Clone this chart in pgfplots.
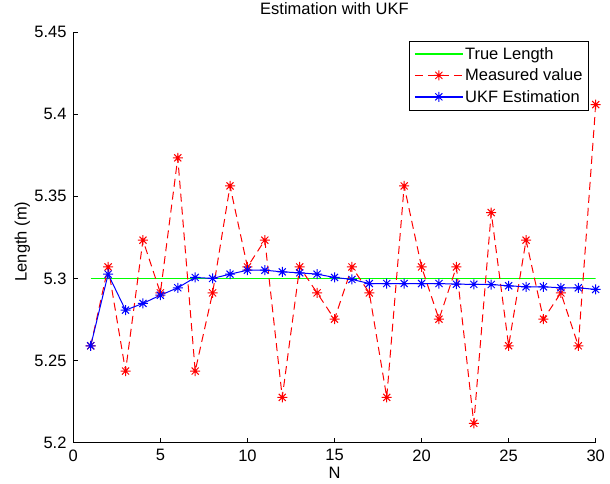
\documentclass[border=0pt]{standalone}
\usepackage{fontspec}
\setmainfont{Liberation Sans}
\usepackage{pgfplots}
\usepackage{pgfplotstable}
\pgfplotsset{compat=1.18}

% MATLAB-like '*' marker: plus and cross overlaid
\pgfdeclareplotmark{mstar}{%
  \pgfpathmoveto{\pgfqpoint{-\pgfplotmarksize}{0pt}}%
  \pgfpathlineto{\pgfqpoint{\pgfplotmarksize}{0pt}}%
  \pgfpathmoveto{\pgfqpoint{0pt}{-\pgfplotmarksize}}%
  \pgfpathlineto{\pgfqpoint{0pt}{\pgfplotmarksize}}%
  \pgfpathmoveto{\pgfqpoint{-0.707\pgfplotmarksize}{-0.707\pgfplotmarksize}}%
  \pgfpathlineto{\pgfqpoint{0.707\pgfplotmarksize}{0.707\pgfplotmarksize}}%
  \pgfpathmoveto{\pgfqpoint{-0.707\pgfplotmarksize}{0.707\pgfplotmarksize}}%
  \pgfpathlineto{\pgfqpoint{0.707\pgfplotmarksize}{-0.707\pgfplotmarksize}}%
  \pgfusepathqstroke}

\definecolor{mgreen}{RGB}{0,255,0}
\definecolor{mred}{RGB}{255,0,0}
\definecolor{mblue}{RGB}{0,0,255}

\pgfplotstableread{
n meas ukf
1  5.2590 5.2590
2  5.3070 5.3026
3  5.2436 5.2807
4  5.3233 5.2848
5  5.2912 5.2898
6  5.3734 5.2943
7  5.2436 5.3006
8  5.2912 5.3000
9  5.3563 5.3026
10 5.3070 5.3050
11 5.3233 5.3050
12 5.2276 5.3040
13 5.3070 5.3034
14 5.2912 5.3026
15 5.2752 5.3006
16 5.3070 5.2994
17 5.2912 5.2969
18 5.2276 5.2969
19 5.3563 5.2969
20 5.3070 5.2969
21 5.2752 5.2969
22 5.3070 5.2965
23 5.2118 5.2964
24 5.3401 5.2963
25 5.2590 5.2955
26 5.3233 5.2949
27 5.2752 5.2949
28 5.2912 5.2943
29 5.2590 5.2943
30 5.4058 5.2933
}\meas

\newcommand{\ff}{\fontsize{16.5}{19}\selectfont}

\begin{document}
\begin{tikzpicture}
\useasboundingbox (-73.3pt,-40.3pt) rectangle (536.7pt,442.7pt);
\begin{axis}[
  scale only axis,
  width=522.4pt, height=410.7pt,
  xmin=0, xmax=30, ymin=5.2, ymax=5.45,
  axis lines=left,
  axis line style={-, black, line width=0.7pt},
  tick align=inside,
  major tick length=5pt,
  tick style={black, line width=0.7pt},
  xtick={0,5,10,15,20,25,30},
  xticklabels={0,5,10,15,20,25,30},
  ytick={5.2,5.25,5.3,5.35,5.4,5.45},
  yticklabels={5.2,5.25,5.3,5.35,5.4,5.45},
  tick label style={font=\ff, inner sep=0pt},
  xticklabel shift=6.6pt,
  yticklabel shift=6.6pt,
  title={Estimation with UKF},
  title style={font=\ff, at={(axis description cs:0.5,1.0292)}, anchor=base, inner sep=0pt},
  xlabel={N},
  xlabel style={font=\ff, at={(axis description cs:0.5,-0.059)}, anchor=north, inner sep=0pt},
  ylabel={Length (m)},
  ylabel style={font=\ff, at={(axis description cs:-0.0892,0.49)}, anchor=base, inner sep=0pt},
  legend style={font=\ff, at={(1,1)}, anchor=north east, xshift=-7pt, yshift=-8.5pt,
    inner xsep=4.5pt, inner ysep=3.5pt, row sep=2pt,
    nodes={inner xsep=1.5pt, inner ysep=3pt}},
  legend cell align=left,
  legend image code/.code={%
    \draw[mark repeat=2, mark phase=2, #1, line width=1.5pt]
      plot coordinates {(0pt,0pt) (24pt,0pt) (48pt,0pt)};},
]
\addplot[mgreen, line width=1pt] coordinates {(1,5.3) (30,5.3)};
\addlegendentry{True Length}
\addplot[mred, line width=1pt, dash pattern=on 8pt off 5pt, mark=mstar, mark size=5pt,
  mark options={solid, line width=1pt}] table[x=n, y=meas] {\meas};
\addlegendentry{Measured value}
\addplot[mblue, line width=1pt, mark=mstar, mark size=5pt,
  mark options={line width=1pt}] table[x=n, y=ukf] {\meas};
\addlegendentry{UKF Estimation}
\end{axis}
\end{tikzpicture}
\end{document}
